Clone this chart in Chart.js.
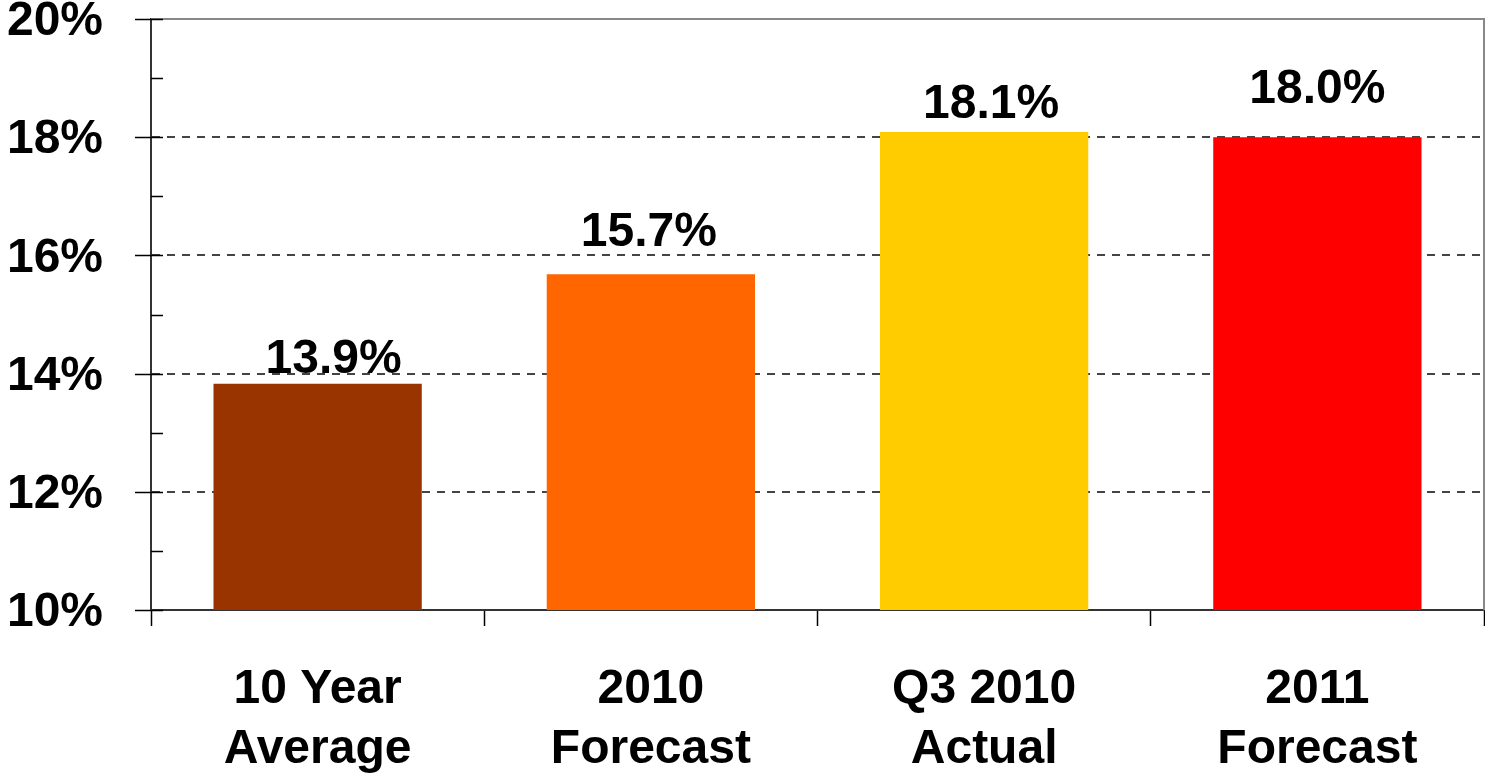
<!DOCTYPE html>
<html>
<head>
<meta charset="utf-8">
<script src="https://cdn.jsdelivr.net/npm/chart.js@4"></script>
<style>
  html, body { margin: 0; padding: 0; background: #fff; }
  #wrap { width: 1485px; height: 774px; position: relative; }
</style>
</head>
<body>
<div id="wrap"><canvas id="chart"></canvas></div>
<script>
// data
const categories = [['10 Year', 'Average'], ['2010', 'Forecast'], ['Q3 2010', 'Actual'], ['2011', 'Forecast']];
const values = [13.83, 15.68, 18.09, 18.0];
const valueLabels = ['13.9%', '15.7%', '18.1%', '18.0%'];
const yTicks = [10, 12, 14, 16, 18, 20];
const yMinorTicks = [11, 13, 15, 17, 19];

const FONT = '"Liberation Sans", Arial, sans-serif';

// value labels above the bars (small per-bar nudges like the original)
const labelNudge = [[16, 11], [-2, 28], [7, 14], [0, 34]];

const barLabels = {
  id: 'barLabels',
  afterDatasetsDraw(chart) {
    const ctx = chart.ctx;
    const meta = chart.getDatasetMeta(0);
    ctx.save();
    ctx.font = 'bold 48px ' + FONT;
    ctx.fillStyle = '#000';
    ctx.textAlign = 'center';
    ctx.textBaseline = 'alphabetic';
    meta.data.forEach((bar, i) => {
      const n = labelNudge[i];
      ctx.fillText(valueLabels[i], bar.x + n[0], bar.y - n[1]);
    });
    ctx.restore();
  }
};

// plot frame and y axis ticks
const frame = {
  id: 'frame',
  beforeDatasetsDraw(chart) {
    const { ctx, chartArea: a } = chart;
    ctx.save();
    ctx.strokeStyle = '#888';
    ctx.lineWidth = 2;
    ctx.beginPath();
    ctx.moveTo(a.left, a.top);
    ctx.lineTo(a.right, a.top);
    ctx.lineTo(a.right, a.bottom);
    ctx.stroke();
    ctx.restore();
  },
  afterDraw(chart) {
    const { ctx, chartArea: a } = chart;
    const y = chart.scales.y;
    ctx.save();
    ctx.strokeStyle = '#000';
    ctx.lineWidth = 1.5;
    ctx.beginPath();
    yTicks.forEach(v => {
      const py = Math.round(y.getPixelForValue(v)) + 0.5;
      ctx.moveTo(a.left - 16, py);
      ctx.lineTo(a.left + 12, py);
    });
    yMinorTicks.forEach(v => {
      const py = Math.round(y.getPixelForValue(v)) + 0.5;
      ctx.moveTo(a.left, py);
      ctx.lineTo(a.left + 12, py);
    });
    ctx.stroke();
    ctx.restore();
  }
};

new Chart(document.getElementById('chart'), {
  type: 'bar',
  data: {
    labels: categories,
    datasets: [{
      data: values,
      backgroundColor: ['#993300', '#FF6600', '#FFCC00', '#FF0000'],
      borderWidth: 0,
      barPercentage: 0.625,
      categoryPercentage: 1
    }]
  },
  options: {
    responsive: true,
    maintainAspectRatio: false,
    animation: false,
    events: [],
    layout: { padding: { top: 19, right: 1, left: 0, bottom: 0 } },
    plugins: {
      legend: { display: false },
      tooltip: { enabled: false }
    },
    scales: {
      x: {
        afterFit(s) { s.height = 164; s.paddingLeft = 0; s.paddingRight = 0; },
        grid: {
          offset: true,
          drawOnChartArea: false,
          drawTicks: true,
          tickLength: 16,
          tickColor: '#000',
          tickWidth: 1.5
        },
        border: { display: true, color: '#333', width: 2 },
        ticks: {
          color: '#000',
          font: { family: FONT, size: 48, weight: 'bold', lineHeight: 1.25 },
          padding: 34,
          maxRotation: 0,
          autoSkip: false
        }
      },
      y: {
        min: 10,
        max: 20,
        afterFit(s) { s.width = 151; s.paddingTop = 0; s.paddingBottom = 0; },
        afterBuildTicks(s) { s.ticks = yTicks.map(v => ({ value: v })); },
        grid: {
          drawTicks: false,
          lineWidth: 2,
          color: c => (c.tick && (c.tick.value === 10 || c.tick.value === 20)) ? 'rgba(0,0,0,0)' : '#444'
        },
        border: { display: true, color: '#333', width: 2, dash: [8, 7] },
        ticks: {
          color: '#000',
          font: { family: FONT, size: 48, weight: 'bold' },
          padding: 48,
          labelOffset: 3,
          callback: v => v + '%'
        }
      }
    }
  },
  plugins: [frame, barLabels]
});
</script>
</body>
</html>
